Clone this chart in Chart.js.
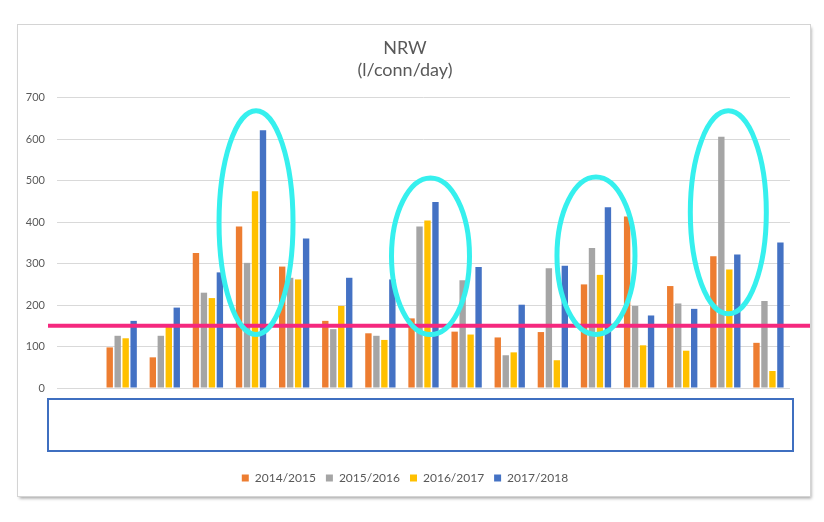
<!DOCTYPE html>
<html>
<head>
<meta charset="utf-8">
<script src="https://cdn.jsdelivr.net/npm/chart.js@4.4.0/dist/chart.umd.min.js"></script>
<style>
  html, body { margin: 0; padding: 0; background: #fff; }
  #wrap { position: relative; width: 824px; height: 522px; }
</style>
</head>
<body>
<div id="wrap"><canvas id="chart" width="824" height="522"></canvas></div>
<script>
// 17 sites, the first one has no data; the x labels are covered by a box in the source
const categories = ['', 'S1', 'S2', 'S3', 'S4', 'S5', 'S6', 'S7', 'S8', 'S9', 'S10', 'S11', 'S12', 'S13', 'S14', 'S15', 'S16'];
const seriesNames = ['2014/2015', '2015/2016', '2016/2017', '2017/2018'];
const y2014 = [null, 98, 74, 326, 390, 293, 162, 132, 168, 136, 122, 135, 250, 414, 246, 318, 109];
const y2015 = [null, 126, 126, 230, 302, 266, 142, 126, 390, 260, 79, 289, 338, 198, 204, 606, 210];
const y2016 = [null, 120, 148, 217, 475, 262, 198, 116, 404, 129, 86, 67, 273, 103, 90, 286, 41];
const y2017 = [null, 162, 194, 279, 622, 361, 266, 262, 449, 292, 201, 295, 436, 175, 191, 322, 351];
const yTicks = [0, 100, 200, 300, 400, 500, 600, 700];
const targetValue = 150;

const colors = ['#ED7D31', '#A5A5A5', '#FFC000', '#4472C4'];

// hand-drawn highlight ellipses: category index, vertical middle/half-height (in values)
const ellipses = [
  { cat: 4, dx: 5, mid: 399, half: 270, rx: 37 },
  { cat: 8, dx: 7, mid: 318, half: 189, rx: 39 },
  { cat: 12, dx: 0, mid: 319, half: 190, rx: 39 },
  { cat: 15, dx: 3, mid: 424, half: 245, rx: 38 }
];

const decorPlugin = {
  id: 'decor',
  beforeDraw(chart) {
    const c = chart.ctx;
    c.save();
    c.fillStyle = '#fff';
    c.fillRect(0, 0, chart.width, chart.height);
    c.shadowColor = 'rgba(0,0,0,0.35)';
    c.shadowBlur = 3;
    c.shadowOffsetX = 1;
    c.shadowOffsetY = 2;
    c.fillRect(17.5, 24.5, 793, 472);
    c.shadowColor = 'transparent';
    c.strokeStyle = '#d4d4d4';
    c.lineWidth = 1;
    c.strokeRect(17.5, 24.5, 793, 472);
    c.restore();
  },
  afterDatasetsDraw(chart) {
    const c = chart.ctx;
    const xs = chart.scales.x;
    const ys = chart.scales.y;
    const area = chart.chartArea;
    c.save();
    // target line
    const ty = ys.getPixelForValue(targetValue);
    c.strokeStyle = '#F5287E';
    c.lineWidth = 4;
    c.beginPath();
    c.moveTo(48, ty);
    c.lineTo(810, ty);
    c.stroke();
    // ellipses
    c.strokeStyle = '#36F0EE';
    c.lineWidth = 5;
    ellipses.forEach(e => {
      const cx = xs.getPixelForValue(e.cat) + e.dx;
      const cy = ys.getPixelForValue(e.mid);
      const ry = Math.abs(ys.getPixelForValue(e.mid + e.half) - cy);
      c.beginPath();
      c.ellipse(cx, cy, e.rx, ry, 0, 0, Math.PI * 2);
      c.stroke();
    });
    // box covering the category labels
    c.fillStyle = '#fff';
    c.strokeStyle = '#3F6FC0';
    c.lineWidth = 2;
    c.fillRect(48, area.bottom + 11, 745, 52);
    c.strokeRect(48, area.bottom + 11, 745, 52);
    c.restore();
  }
};

const datasets = [y2014, y2015, y2016, y2017].map((vals, i) => ({
  label: seriesNames[i],
  data: vals,
  backgroundColor: colors[i],
  borderWidth: 0,
  categoryPercentage: 0.74,
  barPercentage: 0.8
}));

new Chart(document.getElementById('chart'), {
  type: 'bar',
  data: { labels: categories, datasets: datasets },
  options: {
    responsive: false,
    animation: false,
    layout: { padding: { left: 20, right: 34, top: 37, bottom: 28 } },
    plugins: {
      title: {
        display: true,
        text: ['NRW', '(l/conn/day)'],
        color: '#595959',
        font: { family: 'Lato', size: 18, weight: 'normal', lineHeight: 1.22 },
        padding: { top: 0, bottom: 17 }
      },
      legend: {
        position: 'bottom',
        labels: {
          color: '#595959',
          font: { family: 'Lato', size: 12 },
          boxWidth: 7,
          boxHeight: 7,
          padding: 10
        }
      },
      tooltip: { enabled: false }
    },
    scales: {
      x: {
        grid: { display: false },
        border: { display: false },
        ticks: { display: false },
        afterFit(axis) { axis.height = 74; }
      },
      y: {
        min: 0,
        max: 700,
        afterBuildTicks(axis) { axis.ticks = yTicks.map(v => ({ value: v })); },
        afterFit(axis) { axis.width = 37; },
        grid: { color: '#d9d9d9', drawTicks: false },
        border: { display: false },
        ticks: {
          color: '#595959',
          font: { family: 'Lato', size: 11 },
          padding: 12
        }
      }
    }
  },
  plugins: [decorPlugin]
});
</script>
</body>
</html>
